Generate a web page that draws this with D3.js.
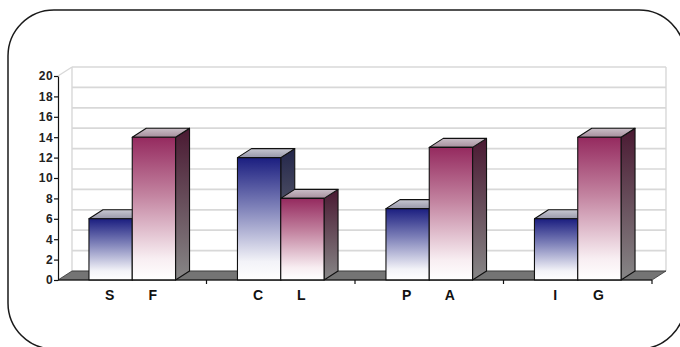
<!DOCTYPE html>
<html>
<head>
<meta charset="utf-8">
<script src="https://cdn.jsdelivr.net/npm/d3@7"></script>
<style>
  html, body { margin: 0; padding: 0; background: #fff; }
  svg { display: block; }
</style>
</head>
<body>
<svg id="chart" width="680" height="347"></svg>
<script>
// Grouped 3D column chart: four pairs of bars
const groups = ["g1", "g2", "g3", "g4"];
const blueLabels = ["S", "C", "P", "I"];
const blueValues = [6, 12, 7, 6];
const pinkLabels = ["F", "L", "A", "G"];
const pinkValues = [14, 8, 13, 14];
const yTicks = [0, 2, 4, 6, 8, 10, 12, 14, 16, 18, 20];

(function () {
  const svg = d3.select("#chart");

  // Depth offset of the 3D box
  const DX = 14, DY = -9;
  const plotLeft = 58, plotRight = 652, plotTop = 76, plotBottom = 280;

  const x0 = d3.scaleBand().domain(groups).range([plotLeft, plotRight])
    .paddingInner(0.417).paddingOuter(0.2085);
  const x1 = d3.scaleBand().domain(["blue", "pink"]).range([0, x0.bandwidth()]);
  const y = d3.scaleLinear().domain([0, 20]).range([plotBottom, plotTop]);

  // Gradients
  const defs = svg.append("defs");
  function vgrad(id, stops) {
    const g = defs.append("linearGradient").attr("id", id)
      .attr("x1", 0).attr("y1", 0).attr("x2", 0).attr("y2", 1);
    stops.forEach(([o, c]) => g.append("stop").attr("offset", o).attr("stop-color", c));
  }
  vgrad("blueFront", [[0, "#1b1e80"], [0.4, "#7d80b8"], [0.85, "#f3f3f8"], [1, "#ffffff"]]);
  vgrad("pinkFront", [[0, "#952a5f"], [0.4, "#c2829f"], [0.85, "#f8eef2"], [1, "#ffffff"]]);
  vgrad("blueSide", [[0, "#22254a"], [1, "#878787"]]);
  vgrad("pinkSide", [[0, "#4a1932"], [1, "#878787"]]);
  vgrad("blueTop", [[0, "#c8c8d2"], [1, "#9898aa"]]);
  vgrad("pinkTop", [[0, "#cabfc8"], [1, "#a68e9c"]]);

  // Rounded frame (bottom edge runs just below the visible area)
  svg.append("rect").attr("x", 8).attr("y", 10).attr("width", 677).attr("height", 339)
    .attr("rx", 46).attr("ry", 46)
    .attr("fill", "none").attr("stroke", "#1a1a1a").attr("stroke-width", 1.5);

  // Back wall gridlines and edges
  const grid = svg.append("g").attr("stroke", "#d8d8d8");
  yTicks.forEach(t => {
    grid.append("line")
      .attr("x1", plotLeft + DX).attr("x2", plotRight + DX)
      .attr("y1", y(t) + DY).attr("y2", y(t) + DY)
      .attr("stroke-width", 1.7);
  });
  grid.append("line").attr("x1", plotLeft + DX).attr("x2", plotLeft + DX)
    .attr("y1", y(20) + DY).attr("y2", y(0) + DY).attr("stroke-width", 1.4);
  grid.append("line").attr("x1", plotRight + DX).attr("x2", plotRight + DX)
    .attr("y1", y(20) + DY).attr("y2", y(0) + DY).attr("stroke-width", 1.4);
  grid.append("line").attr("x1", plotLeft).attr("x2", plotLeft + DX)
    .attr("y1", y(20)).attr("y2", y(20) + DY).attr("stroke-width", 1.4);

  // Floor
  const pts = a => a.map(p => p.join(",")).join(" ");
  svg.append("polygon")
    .attr("points", pts([[plotLeft, y(0)], [plotRight, y(0)], [plotRight + DX, y(0) + DY], [plotLeft + DX, y(0) + DY]]))
    .attr("fill", "#747474").attr("stroke", "#333").attr("stroke-width", 0.8);

  // Bars
  const bars = [];
  groups.forEach((g, i) => {
    bars.push({ g, key: "blue", label: blueLabels[i], value: blueValues[i] });
    bars.push({ g, key: "pink", label: pinkLabels[i], value: pinkValues[i] });
  });

  const barG = svg.append("g");
  bars.forEach(b => {
    const xa = x0(b.g) + x1(b.key);
    const xb = xa + x1.bandwidth();
    const yt = y(b.value), yb = y(0);
    const g = barG.append("g").attr("stroke", "#111").attr("stroke-width", 1.1)
      .attr("stroke-linejoin", "round");
    g.append("polygon")
      .attr("points", pts([[xb, yt], [xb + DX, yt + DY], [xb + DX, yb + DY], [xb, yb]]))
      .attr("fill", `url(#${b.key}Side)`);
    g.append("polygon")
      .attr("points", pts([[xa, yt], [xa + DX, yt + DY], [xb + DX, yt + DY], [xb, yt]]))
      .attr("fill", `url(#${b.key}Top)`);
    g.append("rect").attr("x", xa).attr("y", yt)
      .attr("width", xb - xa).attr("height", yb - yt)
      .attr("fill", `url(#${b.key}Front)`);
  });

  // Y axis
  const yAxis = svg.append("g").attr("transform", `translate(${plotLeft},0)`)
    .call(d3.axisLeft(y).tickValues(yTicks).tickSize(4).tickPadding(1).tickSizeOuter(0));
  yAxis.select(".domain").attr("stroke", "#111").attr("stroke-width", 1.2);
  yAxis.selectAll(".tick line").attr("stroke", "#111").attr("stroke-width", 1.2);
  yAxis.selectAll("text").attr("font-family", "Liberation Sans, Arial, sans-serif")
    .attr("font-size", 12).attr("font-weight", "bold").attr("letter-spacing", 0.4)
    .attr("fill", "#222");

  // X axis: baseline with ticks at group boundaries
  const boundaries = groups.map(g => x0(g) - x0.step() * x0.paddingInner() / 2).concat([plotRight]);
  svg.append("line").attr("x1", plotLeft).attr("x2", plotRight)
    .attr("y1", y(0)).attr("y2", y(0)).attr("stroke", "#111").attr("stroke-width", 1.2);
  svg.append("g").selectAll("line").data(boundaries.slice(1)).join("line")
    .attr("x1", d => d).attr("x2", d => d)
    .attr("y1", y(0)).attr("y2", y(0) + 4)
    .attr("stroke", "#111").attr("stroke-width", 1.2);

  // Bar labels
  svg.append("g").selectAll("text").data(bars).join("text")
    .attr("x", b => x0(b.g) + x1(b.key) + x1.bandwidth() / 2 - 1)
    .attr("y", 300)
    .attr("text-anchor", "middle")
    .attr("font-family", "Liberation Sans, Arial, sans-serif")
    .attr("font-size", 14).attr("font-weight", "bold").attr("fill", "#111")
    .text(b => b.label);
})();
</script>
</body>
</html>
